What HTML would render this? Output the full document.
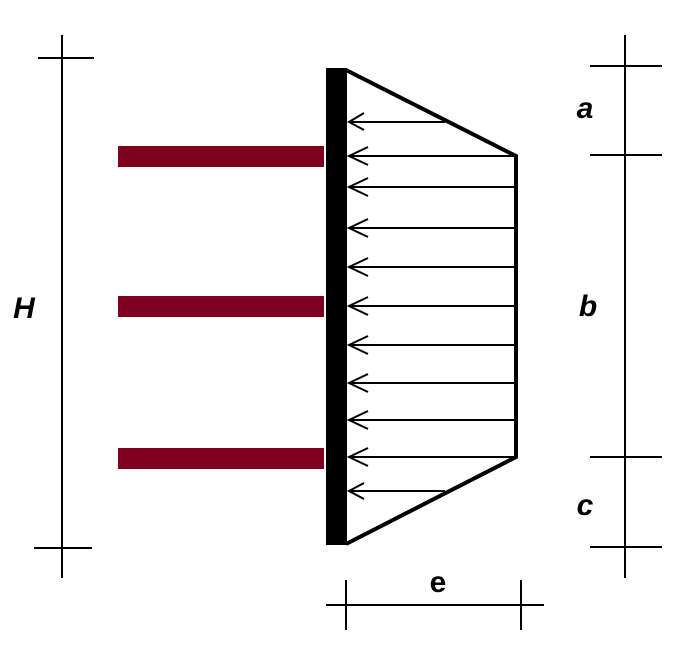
<!DOCTYPE html>
<html><head><style>body{margin:0;background:#fff}</style></head><body>
<svg width="689" height="658" viewBox="0 0 689 658" xmlns="http://www.w3.org/2000/svg">
<rect width="689" height="658" fill="#fff"/>
<g fill="#800020">
<rect x="118" y="146" width="206" height="21"/>
<rect x="118" y="296" width="206" height="21"/>
<rect x="118" y="448" width="206" height="21"/>
</g>
<rect x="326" y="68" width="21" height="477" fill="#000"/>
<polyline points="346,70 516,156 516,457 346,544" fill="none" stroke="#000" stroke-width="4"/>
<g stroke="#000" stroke-width="2" fill="none">
<line x1="349" y1="122" x2="445" y2="122"/>
<line x1="349" y1="491" x2="445" y2="491"/>
<line x1="349" y1="156" x2="516" y2="156"/>
<line x1="349" y1="187" x2="516" y2="187"/>
<line x1="349" y1="228" x2="516" y2="228"/>
<line x1="349" y1="267" x2="516" y2="267"/>
<line x1="349" y1="306" x2="516" y2="306"/>
<line x1="349" y1="345" x2="516" y2="345"/>
<line x1="349" y1="383" x2="516" y2="383"/>
<line x1="349" y1="420" x2="516" y2="420"/>
<line x1="349" y1="457" x2="516" y2="457"/>
<path d="M364,113 L349,122 L364,130 M368,147 L349,156 L368,165 M368,178 L349,187 L368,196 M368,219 L349,228 L368,237 M368,258 L349,267 L368,276 M368,297 L349,306 L368,315 M368,336 L349,345 L368,354 M368,374 L349,383 L368,392 M368,411 L349,420 L368,429 M368,448 L349,457 L368,466 M364,483 L349,491 L364,499"/>
</g>
<g stroke="#000" stroke-width="2">
<line x1="62" y1="35" x2="62" y2="578"/>
<line x1="38" y1="58" x2="94" y2="58"/>
<line x1="34" y1="548" x2="92" y2="548"/>
<line x1="625" y1="35" x2="625" y2="578"/>
<line x1="590" y1="66" x2="662" y2="66"/>
<line x1="590" y1="155" x2="662" y2="155"/>
<line x1="590" y1="457" x2="662" y2="457"/>
<line x1="590" y1="547" x2="662" y2="547"/>
<line x1="326" y1="605" x2="544" y2="605"/>
<line x1="346" y1="580" x2="346" y2="630"/>
<line x1="521" y1="580" x2="521" y2="630"/>
</g>
<g font-family="Liberation Sans, sans-serif" font-weight="bold" font-style="italic" font-size="30" fill="#000" text-anchor="middle">
<text x="24" y="318">H</text>
<text x="585" y="118">a</text>
<text x="588" y="316">b</text>
<text x="585" y="515">c</text>
<text x="438" y="592" font-style="normal">e</text>
</g>
</svg>
</body></html>
